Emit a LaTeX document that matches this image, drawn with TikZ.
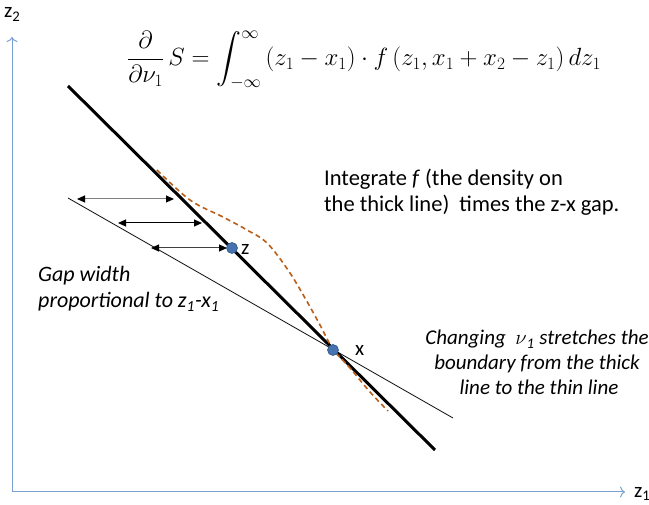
\documentclass[tikz,border=0pt]{standalone}
\usepackage{amsmath}
\usepackage{fontspec}
\setmainfont{Carlito}
\usetikzlibrary{arrows.meta}
\definecolor{axisblue}{RGB}{120,160,210}
\definecolor{dashbrown}{RGB}{185,95,25}
\definecolor{ptblue}{RGB}{70,115,175}
\definecolor{ptedge}{RGB}{45,85,135}
\tikzset{
  axis/.style={axisblue, line width=1pt, -{To[length=5pt,width=11pt]}},
  gaparrow/.style={line width=1pt, {Triangle[length=8pt,width=7pt,color=black]}-{Triangle[length=8pt,width=7pt,color=black]}},
  pt/.style={circle, fill=ptblue, draw=ptedge, line width=0.6pt, minimum size=11pt, inner sep=0pt},
  lbl/.style={font=\fontsize{21}{24}\selectfont, inner sep=0pt, anchor=base west},
  integ/.style={font=\fontsize{22.5}{26}\selectfont, inner sep=0pt, anchor=base west},
  gapnote/.style={font=\fontsize{22}{26}\selectfont\itshape, inner sep=0pt, anchor=base west},
  chgnote/.style={font=\fontsize{21}{25}\selectfont\itshape, inner sep=0pt, anchor=base},
}
\begin{document}
\begin{tikzpicture}[x=1pt,y=-1pt]
\useasboundingbox (0,0) rectangle (649,505);
% axes
\coordinate (o) at (12,492);
\coordinate (ytop) at (12,37);
\coordinate (xend) at (625,492);
\draw[axis] (o) -- (ytop);
\draw[axis] (o) -- (xend);
\node[lbl] (z2lbl) at (4,18) {z\textsubscript{2}};
\node[lbl] (z1lbl) at (634,497) {z\textsubscript{1}};
% formula
\node[font=\fontsize{27}{32}\selectfont, inner sep=0pt] (formula) at (364,60)
  {$\displaystyle \frac{\partial}{\partial\nu_1}\,S=\int_{-\infty}^{\infty}\left(z_1-x_1\right)\cdot f\left(z_1,x_1+x_2-z_1\right)dz_1$};
% lines
\coordinate (tk1) at (68,86);
\coordinate (tk2) at (435,450);
\coordinate (tn1) at (68,198);
\coordinate (tn2) at (453,418);
\draw[line width=3pt] (tk1) -- (tk2);
\draw[line width=0.8pt] (tn1) -- (tn2);
% dashed curve
\draw[dashbrown, line width=1.6pt, dash pattern=on 5pt off 3.5pt]
  plot[smooth, tension=0.6] coordinates {(157,170) (190,200) (223,217) (247,230) (267,243) (288,270) (305,298) (320,325) (333,349) (350,368) (370,392) (388,411)};
% gap arrows
\coordinate (a1l) at (77,199);
\coordinate (a1r) at (174,199);
\coordinate (a2l) at (118,223);
\coordinate (a2r) at (202,223);
\coordinate (a3l) at (151,248);
\coordinate (a3r) at (227,248);
\draw[gaparrow, draw=gray] (a1l) -- (a1r);
\draw[gaparrow, draw=black] (a2l) -- (a2r);
\draw[gaparrow, draw=black!75] (a3l) -- (a3r);
% points
\node[pt] (zpt) at (232,248) {};
\node[pt] (xpt) at (333,350) {};
\node[lbl] (zl) at (241,255) {z};
\node[lbl] (xl) at (355,356) {x};
% texts
\node[integ] (integ1) at (324,186) {Integrate \textit{f} (the density on};
\node[integ] (integ2) at (324,211.7) {the thick line)~ times the z-x gap.};
\node[gapnote] (gap1) at (38,281.7) {Gap width};
\node[gapnote] (gap2) at (38,308) {proportional to z\textsubscript{1}-x\textsubscript{1}};
\node[chgnote] (chg1) at (537,345) {Changing~ $\nu$\textsubscript{1} stretches the};
\node[chgnote] (chg2) at (537,370) {boundary from the thick};
\node[chgnote] (chg3) at (539,395) {line to the thin line};
\end{tikzpicture}
\end{document}
